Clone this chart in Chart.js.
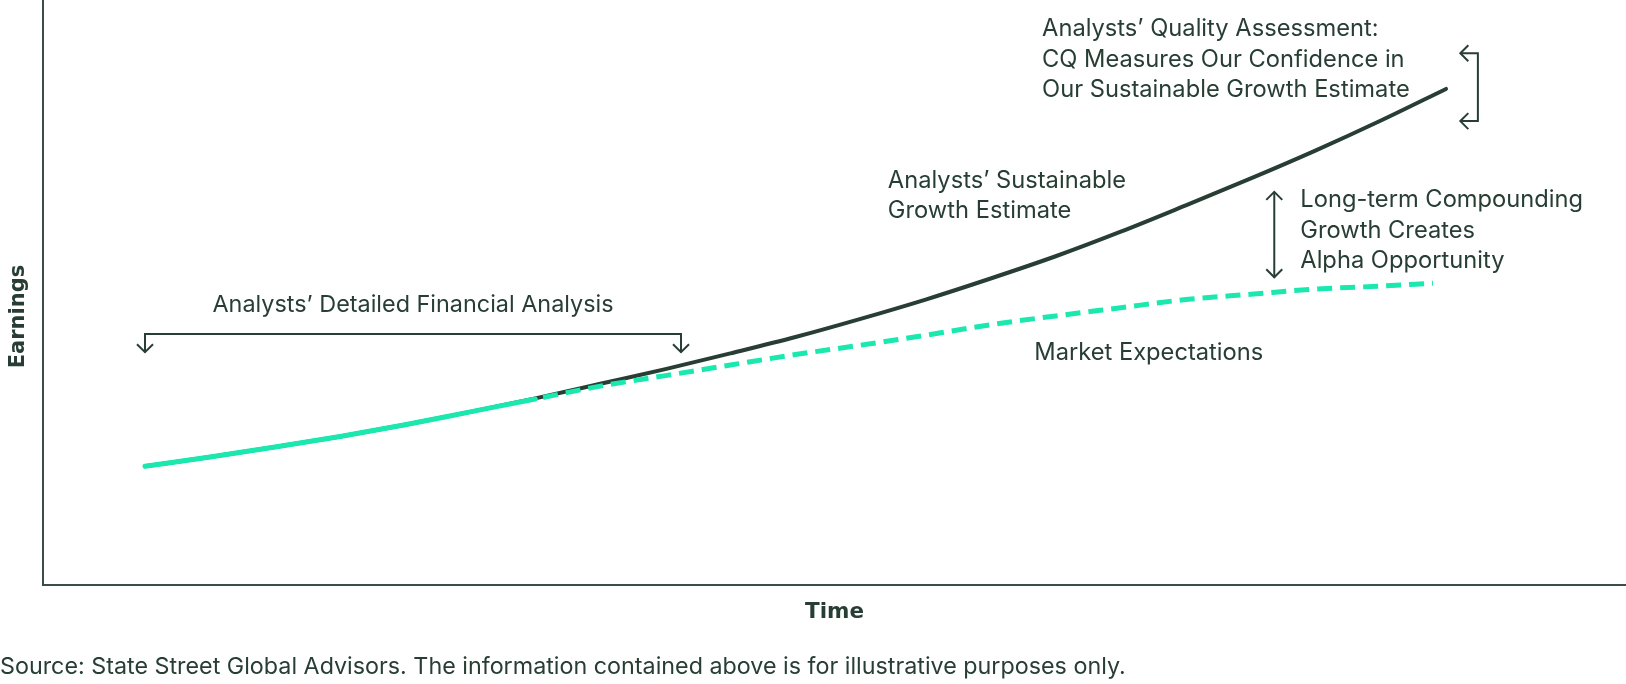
<!DOCTYPE html>
<html><head><meta charset="utf-8">
<script src="https://cdn.jsdelivr.net/npm/chart.js@4.4.1/dist/chart.umd.min.js"></script>
<style>html,body{margin:0;padding:0;background:#fff}#wrap{width:1626px;height:684px}</style>
</head><body><div id="wrap"><canvas id="c" width="1626" height="684"></canvas></div>
<script>
// ---- data (illustrative) ----
const timePoints = [0,1,2,3,4,5,6,7,8,9,10,11,12,13,14,15,16,17,18,19,20];
const sustainableGrowth = [20.3,21.9,23.6,25.4,27.4,29.6,31.9,34.4,36.9,39.6,42.4,45.5,48.8,52.4,56.2,60.4,64.9,69.5,74.3,79.4,84.8];
const marketTime = [0,1,2,3,4,5,6,7,8,9,10,11,12,13,14,15,16,17,18,19,19.8];
const marketExpectations = [20.3,21.9,23.6,25.4,27.4,29.6,31.8,34.0,35.8,37.6,39.4,41.0,42.7,44.5,46.0,47.4,48.8,49.7,50.6,51.1,51.6];
const detailedAnalysisEnd = 6; // market line turns dashed after this period
const xAxisTitle = 'Time';
const yAxisTitle = 'Earnings';
const sourceNote = 'Source: State Street Global Advisors. The information contained above is for illustrative purposes only.';
const noteQuality = ['Analysts\u2019 Quality Assessment:', 'CQ Measures Our Confidence in', 'Our Sustainable Growth Estimate'];
const noteSustainable = ['Analysts\u2019 Sustainable', 'Growth Estimate'];
const noteAlpha = ['Long-term Compounding', 'Growth Creates', 'Alpha Opportunity'];
const noteMarket = ['Market Expectations'];
const noteDetailed = ['Analysts\u2019 Detailed Financial Analysis'];
// annotation anchors in data units [time, earnings]
const anchorQuality = [13.79, 95.0];
const anchorSustainable = [11.42, 69.1];
const anchorAlpha = [17.76, 65.8];
const anchorMarket = [13.67, 39.7];
const anchorYTitle = 45.9; // earnings level where the axis title is centred
const detailedBracket = {from: 0, to: 8.24, level: 42.9, tip: 39.8, label: 47.8};
const qualityBracket = {x: 20.49, tipX: 20.22, top: 90.9, bottom: 79.3};
const alphaArrow = {x: 17.36, top: 67.2, bottom: 52.6};

// ---- styles ----
const DARK = '#283e35';
const AXIS = '#3a4e46';
const MINT = '#1ae8ae';
const FONT = 'Inter, "Liberation Sans", Arial, sans-serif';
const BOLD_FONT = '"DejaVu Sans", Inter, sans-serif';
const NOTE_SIZE = 23.7;
const LINE_GAP = 30.5;

function chevron(ctx, px, py, dir) {
  const a = 8;
  ctx.beginPath();
  if (dir === 'down') { ctx.moveTo(px - a, py - a); ctx.lineTo(px, py); ctx.lineTo(px + a, py - a); }
  if (dir === 'up') { ctx.moveTo(px - a, py + a); ctx.lineTo(px, py); ctx.lineTo(px + a, py + a); }
  if (dir === 'left') { ctx.moveTo(px + a, py - a); ctx.lineTo(px, py); ctx.lineTo(px + a, py + a); }
  ctx.stroke();
}

const annotationPlugin = {
  id: 'annot',
  afterDatasetsDraw(chart) {
    const {ctx, scales: {x, y}} = chart;
    const X = v => x.getPixelForValue(v), Y = v => y.getPixelForValue(v);
    ctx.save();
    ctx.fillStyle = DARK; ctx.strokeStyle = DARK; ctx.lineWidth = 2;
    ctx.lineJoin = 'miter'; ctx.lineCap = 'butt';
    ctx.textBaseline = 'middle';
    ctx.font = NOTE_SIZE + 'px ' + FONT;
    const block = (lines, anchor, align) => {
      ctx.textAlign = align;
      lines.forEach((ln, i) => ctx.fillText(ln, X(anchor[0]), Y(anchor[1]) + i * LINE_GAP));
    };
    block(noteQuality, anchorQuality, 'left');
    block(noteSustainable, anchorSustainable, 'left');
    block(noteAlpha, anchorAlpha, 'left');
    block(noteMarket, anchorMarket, 'left');
    ctx.font = '23.4px ' + FONT;
    block(noteDetailed, [(detailedBracket.from + detailedBracket.to) / 2, detailedBracket.label], 'center');

    // detailed analysis bracket
    const b = detailedBracket;
    ctx.beginPath();
    ctx.moveTo(X(b.from), Y(b.tip)); ctx.lineTo(X(b.from), Y(b.level));
    ctx.lineTo(X(b.to), Y(b.level)); ctx.lineTo(X(b.to), Y(b.tip));
    ctx.stroke();
    chevron(ctx, X(b.from), Y(b.tip), 'down');
    chevron(ctx, X(b.to), Y(b.tip), 'down');

    // quality bracket
    const q = qualityBracket;
    ctx.beginPath();
    ctx.moveTo(X(q.tipX), Y(q.top)); ctx.lineTo(X(q.x), Y(q.top));
    ctx.lineTo(X(q.x), Y(q.bottom)); ctx.lineTo(X(q.tipX), Y(q.bottom));
    ctx.stroke();
    chevron(ctx, X(q.tipX), Y(q.top), 'left');
    chevron(ctx, X(q.tipX), Y(q.bottom), 'left');

    // alpha double arrow
    const d = alphaArrow;
    ctx.beginPath();
    ctx.moveTo(X(d.x), Y(d.top)); ctx.lineTo(X(d.x), Y(d.bottom));
    ctx.stroke();
    chevron(ctx, X(d.x), Y(d.top), 'up');
    chevron(ctx, X(d.x), Y(d.bottom), 'down');

    // y axis title
    ctx.save();
    ctx.translate(y.left + 18.5, Y(anchorYTitle));
    ctx.rotate(-Math.PI / 2);
    ctx.textAlign = 'center';
    ctx.font = 'bold 21px ' + BOLD_FONT;
    ctx.fillText(yAxisTitle, 0, 0);
    ctx.restore();
    ctx.restore();
  }
};

const growthData = timePoints.map((t, i) => ({x: t, y: sustainableGrowth[i]}));
const marketData = marketTime.map((t, i) => ({x: t, y: marketExpectations[i]}));

new Chart(document.getElementById('c'), {
  type: 'line',
  data: {
    datasets: [
      {
        label: 'Market Expectations',
        data: marketData,
        borderColor: MINT,
        borderWidth: 5,
        pointRadius: 0,
        cubicInterpolationMode: 'monotone',
        borderCapStyle: 'round',
        order: 0,
        segment: {
          borderDash: ctx => ctx.p0.parsed.x >= detailedAnalysisEnd ? [15, 8] : undefined,
          borderDashOffset: ctx => ctx.p0.parsed.x >= detailedAnalysisEnd ? 15 : 0,
          borderCapStyle: ctx => ctx.p0.parsed.x >= detailedAnalysisEnd ? 'butt' : 'round'
        }
      },
      {
        label: 'Analysts\u2019 Sustainable Growth Estimate',
        data: growthData,
        borderColor: DARK,
        borderWidth: 4,
        pointRadius: 0,
        cubicInterpolationMode: 'monotone',
        borderCapStyle: 'round',
        order: 1
      }
    ]
  },
  options: {
    responsive: false,
    animation: false,
    devicePixelRatio: 1,
    events: [],
    layout: {padding: {left: 0, right: 0, top: 0, bottom: 0}},
    plugins: {
      legend: {display: false},
      tooltip: {enabled: false},
      title: {
        display: true,
        position: 'bottom',
        align: 'start',
        text: sourceNote,
        color: DARK,
        font: {family: FONT, size: 23.3, weight: 'normal', lineHeight: 1.2},
        padding: {top: 18.1, bottom: 3.0}
      }
    },
    scales: {
      x: {
        type: 'linear',
        min: -1.568,
        max: 22.767,
        grid: {display: false, drawTicks: false},
        ticks: {display: false},
        border: {display: true, color: AXIS, width: 2},
        title: {display: true, text: xAxisTitle, color: DARK,
          font: {family: BOLD_FONT, size: 21.5, weight: 'bold', lineHeight: 1.2},
          padding: {top: 14.1, bottom: 10}}
      },
      y: {
        type: 'linear',
        min: 0,
        max: 100,
        grid: {display: false, drawTicks: false},
        ticks: {display: false},
        border: {display: true, color: AXIS, width: 2},
        title: {display: false, text: yAxisTitle},
        afterFit: s => { s.width = 43; }
      }
    }
  },
  plugins: [annotationPlugin]
});
</script></body></html>
